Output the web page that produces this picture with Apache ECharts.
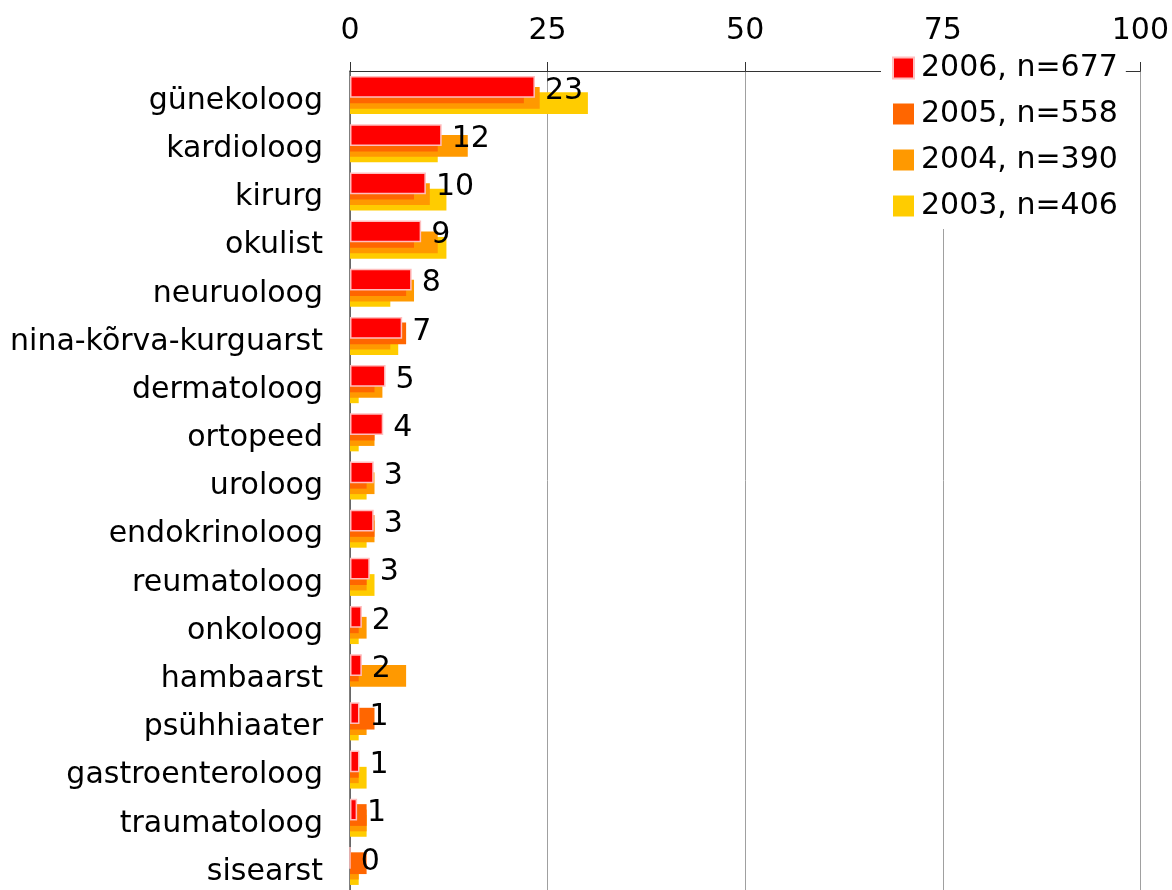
<!DOCTYPE html>
<html><head><meta charset="utf-8">
<script src="https://cdn.jsdelivr.net/npm/echarts@6/dist/echarts.min.js"></script>
<style>html,body{margin:0;padding:0;background:#fff}#c{width:1172px;height:890px}</style>
</head><body><div id="c"></div>
<script>
var categories = ['günekoloog','kardioloog','kirurg','okulist','neuruoloog','nina-kõrva-kurguarst','dermatoloog','ortopeed','uroloog','endokrinoloog','reumatoloog','onkoloog','hambaarst','psühhiaater','gastroenteroloog','traumatoloog','sisearst'];
var s2006 = [23.4, 11.6, 9.6, 9.0, 7.8, 6.6, 4.5, 4.2, 3.0, 3.0, 2.5, 1.5, 1.5, 1.2, 1.2, 0.9, 0];
var s2005 = [22.0, 11.1, 8.1, 8.1, 7.1, 7.1, 3.1, 3.1, 2.1, 3.1, 2.1, 1.1, 1.1, 3.1, 1.1, 2.1, 2.1];
var s2004 = [24.0, 14.9, 10.1, 11.1, 8.1, 5.1, 4.1, 3.1, 3.1, 3.1, 2.1, 2.1, 7.1, 2.1, 1.1, 2.1, 1.1];
var s2003 = [30.1, 11.1, 12.2, 12.2, 5.1, 6.1, 1.1, 1.1, 2.1, 2.1, 3.1, 1.1, 0, 1.1, 2.1, 2.1, 1.1];
var seriesNames = ['2006, n=677','2005, n=558','2004, n=390','2003, n=406'];
var xTicks = [0, 25, 50, 75, 100];

var FONT = 'DejaVu Sans';
var FS = 30;
var chart = echarts.init(document.getElementById('c'), null, {renderer:'canvas'});
var colors = ['#FF0000','#FF6600','#FF9900','#FFCC00'];
var data = [s2006, s2005, s2004, s2003];
var series = data.map(function(d, i){
  var s = {
    name: seriesNames[i], type: 'bar', data: d, z: 10 - i,
    barGap: '-75%', barCategoryGap: '21%',
    itemStyle: {color: colors[i]},
    animation: false
  };
  if (i === 0) {
    s.itemStyle.borderColor = 'rgba(255,190,190,1)';
    s.itemStyle.borderWidth = 1.5;
    s.label = {show: true, position: 'right', distance: 10, color: '#000',
      fontFamily: FONT, fontSize: FS, offset: [0, 4],
      formatter: function(p){ return Math.round(p.value); }};
  }
  return s;
});
chart.setOption({
  animation: false,
  textStyle: {fontFamily: FONT},
  grid: {left: 350, top: 71, width: 792, bottom: -5, containLabel: false},
  legend: {
    orient: 'vertical', left: 881, top: 45,
    data: seriesNames,
    icon: 'rect',
    backgroundColor: '#fff',
    padding: [8, 8, 8, 11],
    itemWidth: 21, itemHeight: 21, itemGap: 16,
    textStyle: {fontFamily: FONT, fontSize: FS, color: '#000', lineHeight: 30, padding: [0,0,0,2]}
  },
  xAxis: {
    type: 'value', position: 'top', min: xTicks[0], max: xTicks[xTicks.length-1], interval: 25,
    axisLine: {show: true, lineStyle: {color: '#333', width: 1}},
    axisTick: {show: true, inside: false, length: 9, lineStyle: {color: '#333'}},
    axisLabel: {fontFamily: FONT, fontSize: FS, color: '#000', margin: 25},
    splitLine: {show: true, lineStyle: {color: '#a0a0a0', width: 1}}
  },
  yAxis: {
    type: 'category', data: categories, inverse: true,
    axisLine: {show: true, lineStyle: {color: '#555', width: 1.5}},
    axisTick: {show: false},
    axisLabel: {fontFamily: FONT, fontSize: FS, color: '#000', margin: 27,
      formatter: function(v){ return '{a|' + v + '}'; },
      rich: {a: {fontFamily: FONT, fontSize: FS, color: '#000', padding: [12,0,0,0]}}},
    splitLine: {show: false}
  },
  series: series
});
</script></body></html>
